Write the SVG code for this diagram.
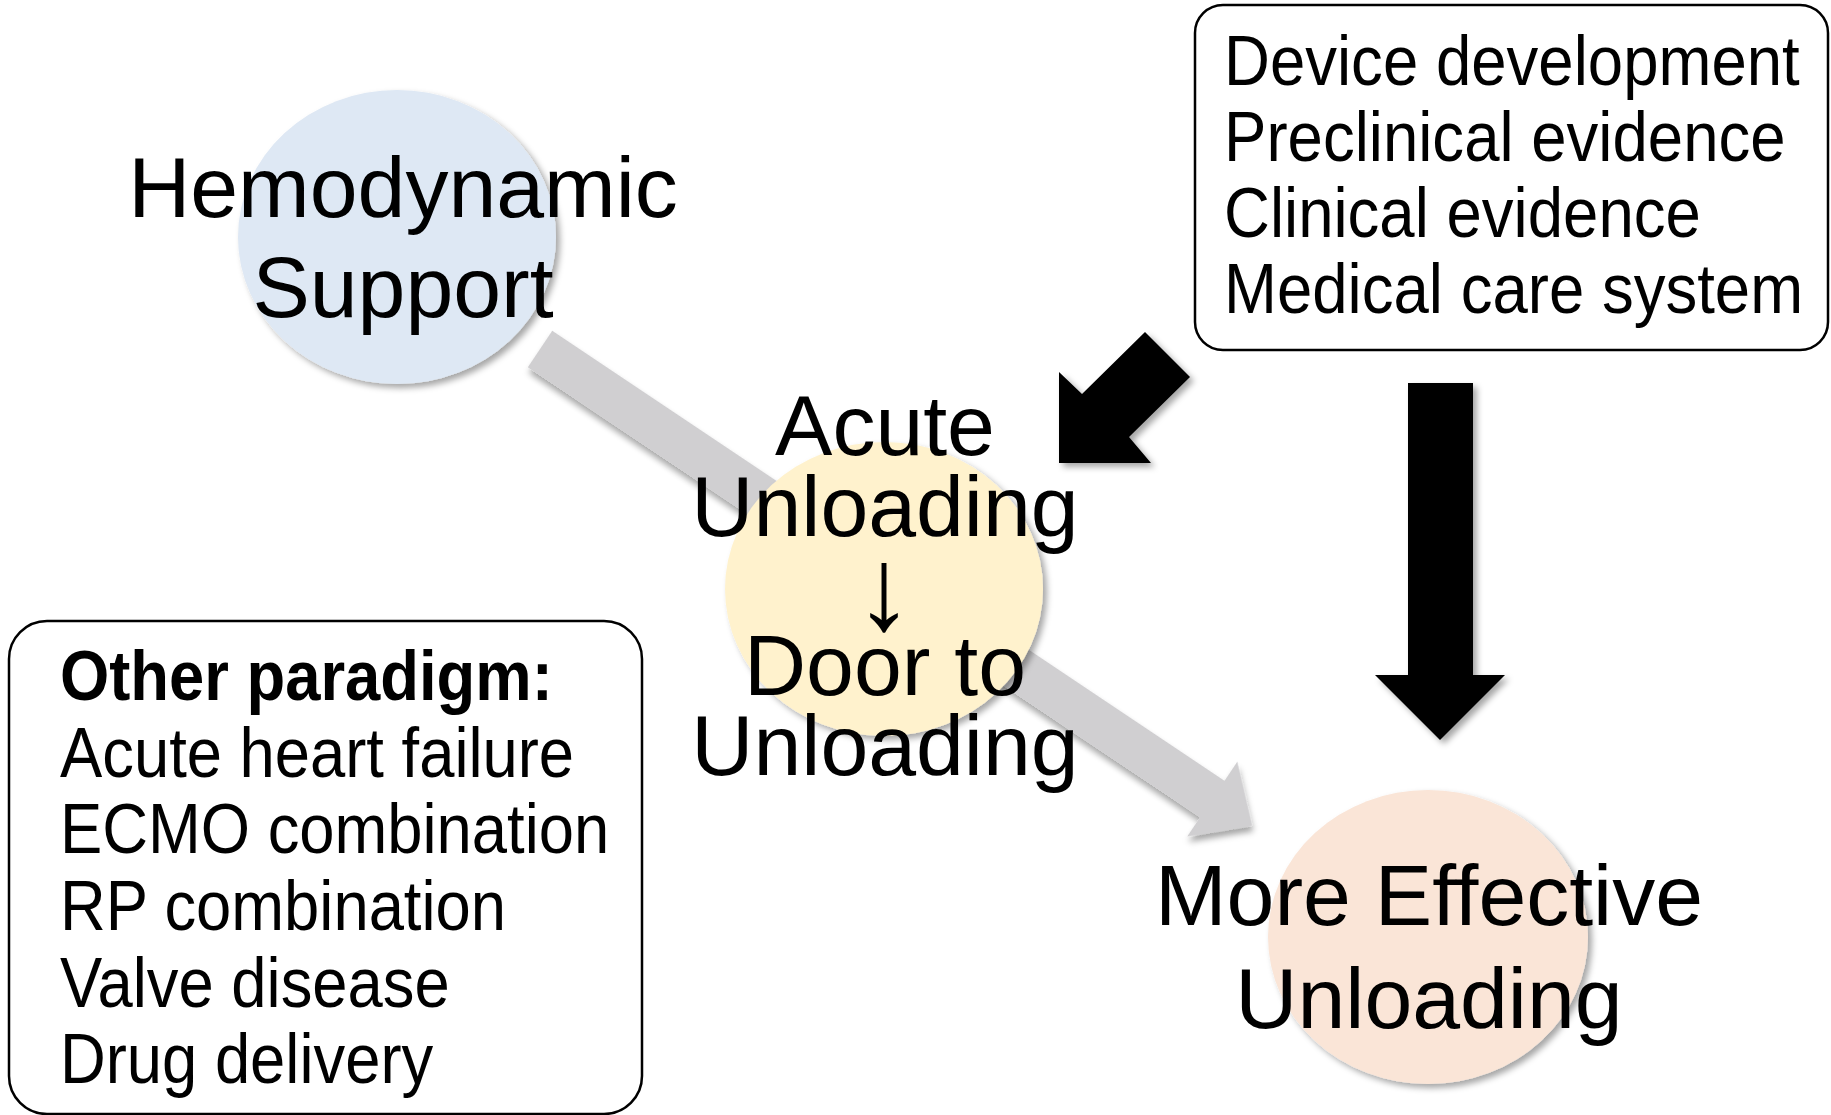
<svg xmlns="http://www.w3.org/2000/svg" width="1831" height="1115" viewBox="0 0 1831 1115">
<defs>
<filter id="sh" x="-20%" y="-20%" width="140%" height="140%">
<feDropShadow dx="4" dy="4" stdDeviation="3" flood-color="#000" flood-opacity="0.35"/>
</filter>
<style>
.big{font-family:"Liberation Sans",Arial,sans-serif;font-size:86px;fill:#000;text-anchor:middle}
.lst{font-family:"Liberation Sans",Arial,sans-serif;font-size:70px;fill:#000}
.bold{font-weight:bold}
.box{fill:#fff;stroke:#000;stroke-width:2.5}
.blk{fill:#000;filter:url(#sh)}
</style>
</defs>
<rect width="1831" height="1115" fill="#fff"/>
<g id="connectors">
<g transform="translate(540,349) rotate(33.8)">
<polygon points="0,-22 809,-22 809,-45 857,0 809,45 809,22 0,22" fill="#D0CFD1" filter="url(#sh)"/>
</g>
<polygon class="blk" points="1059,372 1082,394 1145,332 1190,377 1129,437 1151,463 1059,463"/>
<polygon class="blk" points="1408,383 1473,383 1473,675 1505,675 1440,740 1375,675 1408,675"/>
</g>
<g id="node-hemodynamic">
<ellipse cx="397" cy="237" rx="159" ry="147" fill="#DEE8F4" filter="url(#sh)"/>
<text class="big" x="403" y="217">Hemodynamic</text>
<text class="big" x="403" y="317">Support</text>
</g>
<g id="node-acute">
<ellipse cx="884" cy="589" rx="159" ry="147" fill="#FFF2CD" filter="url(#sh)"/>
<text class="big" x="885" y="455">Acute</text>
<text class="big" x="885" y="536">Unloading</text>
<text class="big" x="884" y="629" style="font-size:118px">↓</text>
<text class="big" x="885" y="695">Door to</text>
<text class="big" x="885" y="775">Unloading</text>
</g>
<g id="node-effective">
<ellipse cx="1428" cy="937" rx="160" ry="147" fill="#FAE5D7" filter="url(#sh)"/>
<text class="big" x="1429" y="925">More Effective</text>
<text class="big" x="1429" y="1028">Unloading</text>
</g>
<g id="node-factors">
<rect class="box" x="1195" y="5" width="633" height="345" rx="28"/>
<g transform="translate(1224,0) scale(0.908,1)">
<text class="lst" x="0" y="85">Device development</text>
<text class="lst" x="0" y="161">Preclinical evidence</text>
<text class="lst" x="0" y="237">Clinical evidence</text>
<text class="lst" x="0" y="313">Medical care system</text>
</g>
</g>
<g id="node-paradigm">
<rect class="box" x="9" y="621" width="633" height="493" rx="38"/>
<g transform="translate(60,0) scale(0.905,1)">
<text class="lst bold" x="0" y="700">Other paradigm:</text>
<text class="lst" x="0" y="777">Acute heart failure</text>
<text class="lst" x="0" y="853">ECMO combination</text>
<text class="lst" x="0" y="930">RP combination</text>
<text class="lst" x="0" y="1007">Valve disease</text>
<text class="lst" x="0" y="1083">Drug delivery</text>
</g>
</g>
</svg>
